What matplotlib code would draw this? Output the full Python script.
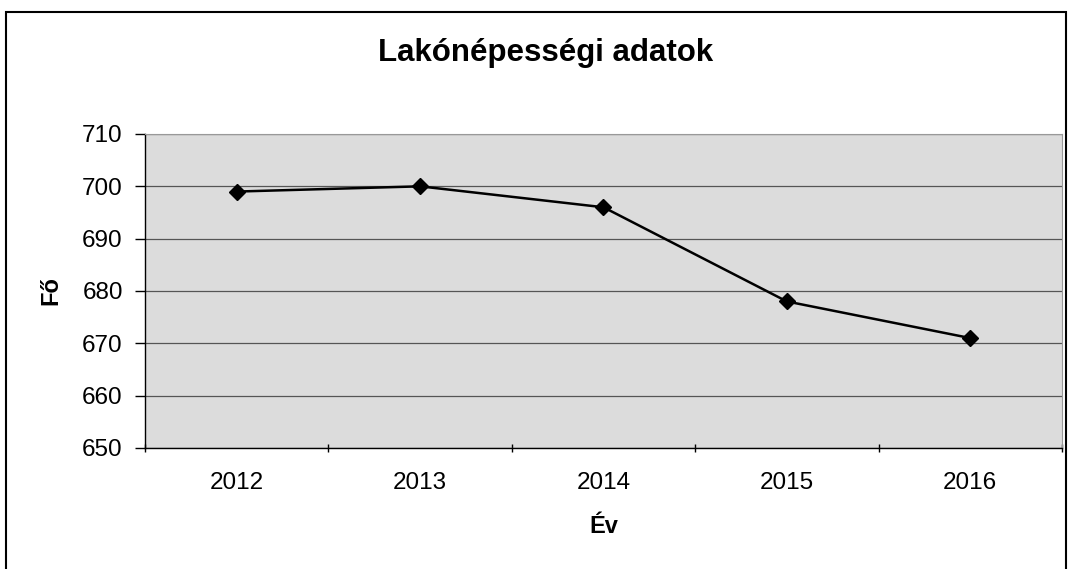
import numpy as np
import matplotlib.pyplot as plt
from matplotlib.patches import Rectangle

plt.rcParams['font.family'] = ['Liberation Sans', 'DejaVu Sans']

# adatok
years = ['2012', '2013', '2014', '2015', '2016']
lakok = [699, 700, 696, 678, 671]
y_ticks = [650, 660, 670, 680, 690, 700, 710]

fig = plt.figure(figsize=(10.7, 5.69), dpi=100)
ax = fig.add_axes([0.1355, 0.2127, 0.8570, 0.5518])
ax.set_facecolor('#dcdcdc')

x = np.arange(len(years))
ax.plot(x, lakok, color='black', linewidth=1.8, marker='D', markersize=8, zorder=3)

ax.set_xlim(-0.5, len(years) - 0.5)
ax.set_ylim(650, 710)
ax.set_yticks(y_ticks)
ax.yaxis.grid(True, color='#555555', linewidth=0.9)
ax.set_axisbelow(True)

# kategória tengely: osztás a kategóriák között
ax.set_xticks(np.arange(-0.5, len(years), 1.0))
ax.set_xticklabels([])
ax.set_xticks(x, minor=True)
ax.set_xticklabels(years, minor=True)
ax.tick_params(axis='x', which='minor', length=0, pad=17, labelsize=17.5)
ax.tick_params(axis='x', which='major', length=6, direction='inout', width=1)
ax.tick_params(axis='y', length=7, direction='out', width=1, labelsize=17.5, pad=9)

for s in ['top', 'right']:
    ax.spines[s].set_color('#999999')
    ax.spines[s].set_linewidth(0.8)
for s in ['left', 'bottom']:
    ax.spines[s].set_color('black')
    ax.spines[s].set_linewidth(1.0)

ax.set_ylabel('Fő', fontsize=17, fontweight='bold')
ax.yaxis.set_label_coords(-0.090, 0.5)
ax.set_xlabel('Év', fontsize=17, fontweight='bold')
ax.xaxis.set_label_coords(0.5, -0.212)
fig.suptitle('Lakónépességi adatok', x=0.51, y=0.906, va='center',
             fontsize=22.5, fontweight='bold')

# külső keret
fig.patches.append(Rectangle((6 / 1070, -0.05), 1060 / 1070, 1.05 - 12 / 569,
                             transform=fig.transFigure, fill=False,
                             edgecolor='black', linewidth=1.5))

fig.savefig('out.png', dpi=100)
